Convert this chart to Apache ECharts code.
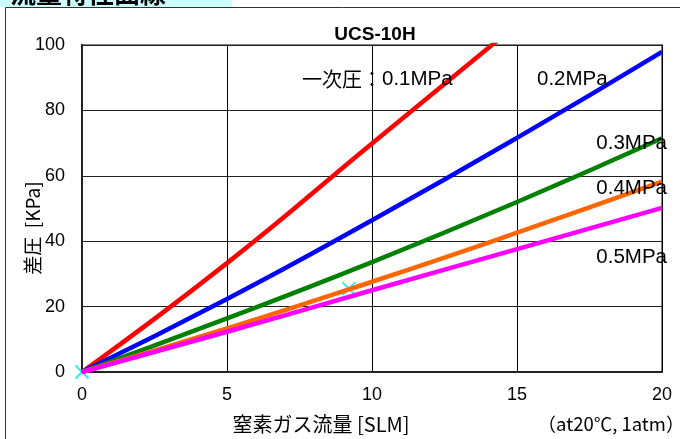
<!DOCTYPE html>
<html><head><meta charset="utf-8">
<script src="https://cdn.jsdelivr.net/npm/echarts@6/dist/echarts.min.js"></script>
<style>html,body{margin:0;padding:0;background:#fff}#c{width:680px;height:439px}</style>
</head><body><div id="c"></div>
<script>
const flow = [0, 5, 10, 15, 20];
const p01 = [0, 33.3, 69.9, 106.3, null];
const p02 = [0, 22.3, 46.4, 71.6, 97.9];
const p03 = [0, 16.4, 33.6, 52.0, 71.5];
const p04 = [0, 13.3, 27.6, 42.6, 58.2];
const p05 = [0, 12.3, 25.0, 37.6, 50.2];
const markX = [0, 9.2];
const markY = [0, 25.5];
const seriesNames = ['0.1MPa', '0.2MPa', '0.3MPa', '0.4MPa', '0.5MPa'];
const colors = ['#FF0000', '#0000FF', '#008000', '#FF6600', '#FF00FF'];
const xTicks = [0, 5, 10, 15, 20];
const yTicks = [0, 20, 40, 60, 80, 100];

const FONT = '"Liberation Sans", Arial, "Noto Sans CJK JP", sans-serif';
const JP = '"Noto Sans CJK JP", "Liberation Sans", sans-serif';

const pairs = (ys) => flow.map((x, i) => [x, ys[i]]).filter(p => p[1] !== null);
const all = [p01, p02, p03, p04, p05];

const chart = echarts.init(document.getElementById('c'));
chart.setOption({
  animation: false,
  grid: { left: 82, right: 18, top: 45, bottom: 67, show: true, borderColor: '#808080', borderWidth: 2, backgroundColor: '#fff' },
  xAxis: {
    type: 'value', min: xTicks[0], max: xTicks[xTicks.length - 1], interval: 5,
    axisLine: { show: true, lineStyle: { color: '#222', width: 2 } },
    axisTick: { show: false },
    axisLabel: { color: '#000', fontSize: 18, fontFamily: FONT, margin: 14 },
    splitLine: { show: true, lineStyle: { color: '#000', width: 1 } }
  },
  yAxis: {
    type: 'value', min: yTicks[0], max: yTicks[yTicks.length - 1], interval: 20,
    axisLine: { show: true, lineStyle: { color: '#222', width: 2 } },
    axisTick: { show: true, length: 4, inside: true, lineStyle: { color: '#222' } },
    axisLabel: { color: '#000', fontSize: 18, fontFamily: FONT, margin: 17 },
    splitLine: { show: true, lineStyle: { color: '#222', width: 1 } }
  },
  series: [
    {
      type: 'scatter', z: 1,
      symbol: 'path://M0,0L10,10M10,0L0,10', symbolSize: 13,
      itemStyle: { color: 'none', borderColor: '#00E5EE', borderWidth: 2 },
      data: markX.map((x, i) => [x, markY[i]])
    }
  ].concat(all.map((d, i) => ({
    name: seriesNames[i], type: 'line', smooth: true, showSymbol: false, z: 3 + i,
    clip: true,
    lineStyle: { color: colors[i], width: 4.5 },
    data: pairs(d)
  }))),
  graphic: [
    { type: 'rect', shape: { x: 0, y: 0, width: 232, height: 7 }, style: { fill: '#CCFFFF' }, z: 0 },
    { type: 'text', x: 10, y: -20, style: { text: '流量特性曲線', font: 'bold 26px ' + JP, fill: '#000' }, z: 1 },
    { type: 'rect', shape: { x: 5.5, y: 7.5, width: 690, height: 450 }, style: { fill: 'none', stroke: '#333', lineWidth: 1 }, z: -1 },
    { type: 'text', x: 375, y: 35, style: { text: 'UCS-10H', font: 'bold 19px ' + FONT, fill: '#000', align: 'center', verticalAlign: 'middle' }, z: 10 },
    { type: 'text', x: 302, y: 79, style: {
        text: '{a|一次圧：}{b|0.1MPa}', verticalAlign: 'middle',
        rich: {
          a: { fontFamily: JP, fontSize: 20, fill: '#000', color: '#000' },
          b: { fontFamily: FONT, fontSize: 20.5, fill: '#000', color: '#000' }
        } }, z: 10 },
    { type: 'text', x: 537, y: 79, style: { text: '0.2MPa', font: '20.5px ' + FONT, fill: '#000', verticalAlign: 'middle' }, z: 10 },
    { type: 'text', x: 667, y: 143, style: { text: '0.3MPa', font: '20.5px ' + FONT, fill: '#000', align: 'right', verticalAlign: 'middle' }, z: 10 },
    { type: 'text', x: 667, y: 188, style: { text: '0.4MPa', font: '20.5px ' + FONT, fill: '#000', align: 'right', verticalAlign: 'middle' }, z: 10 },
    { type: 'text', x: 667, y: 257, style: { text: '0.5MPa', font: '20.5px ' + FONT, fill: '#000', align: 'right', verticalAlign: 'middle' }, z: 10 },
    { type: 'text', x: 33, y: 228, rotation: Math.PI / 2, style: { text: '差圧  [KPa]', font: '19px ' + JP, fill: '#000', align: 'center', verticalAlign: 'middle' }, z: 10 },
    { type: 'text', x: 321, y: 424, style: { text: '窒素ガス流量 [SLM]', font: '20px ' + JP, fill: '#000', align: 'center', verticalAlign: 'middle' }, z: 10 },
    { type: 'text', x: 611, y: 424, style: { text: '（at20℃, 1atm）', font: '18.5px ' + JP, fill: '#000', align: 'center', verticalAlign: 'middle' }, z: 10 }
  ]
});
</script></body></html>
